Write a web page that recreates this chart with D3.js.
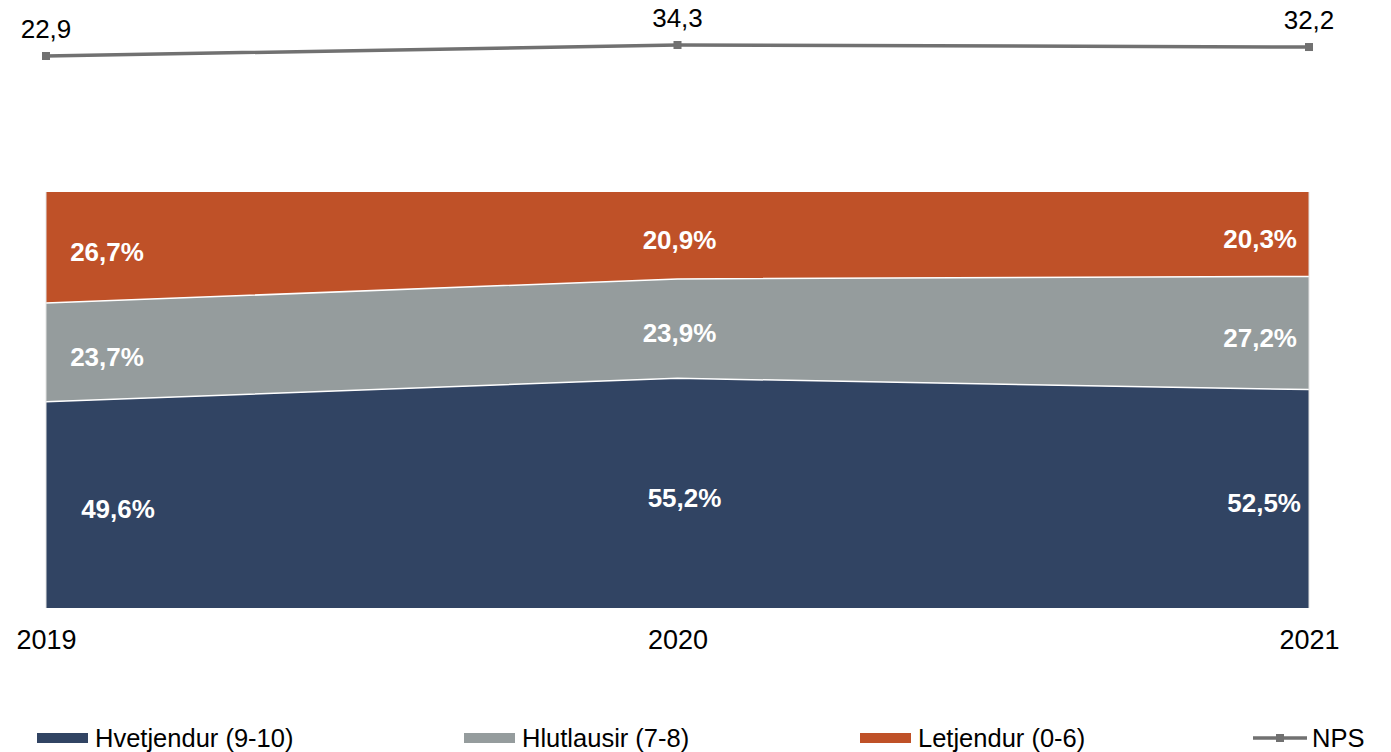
<!DOCTYPE html>
<html>
<head>
<meta charset="utf-8">
<script src="https://cdn.jsdelivr.net/npm/d3@7"></script>
<style>
  html, body { margin: 0; padding: 0; background: #fff; }
  svg { display: block; font-family: "Liberation Sans", Arial, sans-serif; }
</style>
</head>
<body>
<svg id="chart" width="1391" height="752"></svg>
<script>
// ---- data ----
const years = ["2019", "2020", "2021"];
const seriesNames = ["Hvetjendur (9-10)", "Hlutlausir (7-8)", "Letjendur (0-6)"];
const promoters = [49.6, 55.2, 52.5];
const passives = [23.7, 23.9, 27.2];
const detractors = [26.7, 20.9, 20.3];
const nps = [22.9, 34.3, 32.2];
const npsName = "NPS";

const seriesColors = ["#314463", "#959c9d", "#bf5128"];
const npsColor = "#717171";

const fmt = v => d3.format(".1f")(v).replace(".", ",");

const svg = d3.select("#chart");

const plot = { left: 46, right: 1309, top: 192, bottom: 608 };

const x = d3.scalePoint().domain(years).range([plot.left, plot.right]);
const y = d3.scaleLinear().domain([0, 100]).range([plot.bottom, plot.top]);
const yN = d3.scaleLinear().domain([0, 40]).range([78.1, 39.5]);

const rows = years.map((yr, i) => ({
  year: yr, s0: promoters[i], s1: passives[i], s2: detractors[i]
}));
const stack = d3.stack().keys(["s0", "s1", "s2"]);
const stacked = stack(rows);

const area = d3.area()
  .x(d => x(d.data.year))
  .y0(d => y(d[0]))
  .y1(d => y(d[1]));

svg.append("g").selectAll("path")
  .data(stacked)
  .join("path")
  .attr("d", area)
  .attr("fill", (d, i) => seriesColors[i]);

// white separators between bands
const sepLine = d3.line().x(d => x(d.data.year)).y(d => y(d[1]));
svg.append("g").selectAll("path")
  .data(stacked.slice(0, 2))
  .join("path")
  .attr("d", sepLine)
  .attr("fill", "none")
  .attr("stroke", "#ffffff")
  .attr("stroke-width", 1.5);

// faint plot outline at the sides
svg.append("g").selectAll("line")
  .data([years[0], years[years.length - 1]])
  .join("line")
  .attr("x1", d => x(d)).attr("x2", d => x(d))
  .attr("y1", plot.top).attr("y2", plot.bottom)
  .attr("stroke", "#e3e3e3").attr("stroke-width", 1);

// data labels in bands
const labelG = svg.append("g")
  .attr("font-size", 26).attr("font-weight", "bold").attr("fill", "#ffffff");
stacked.forEach((layer, si) => {
  layer.forEach((d, i) => {
    const mid = (y(d[0]) + y(d[1])) / 2;
    const nudge = si === 0 ? [11, 5, 4][i] : 0;
    let anchor, lx;
    if (i === 0) { anchor = "middle"; lx = x(d.data.year) + 61 + nudge; }
    else if (i === years.length - 1) { anchor = "end"; lx = x(d.data.year) - 12 + nudge; }
    else { anchor = "middle"; lx = x(d.data.year) + 2 + nudge; }
    labelG.append("text")
      .attr("x", lx).attr("y", mid).attr("dy", "0.52em")
      .attr("text-anchor", anchor)
      .text(fmt(d[1] - d[0]) + "%");
  });
});

// NPS line
const npsLine = d3.line().x((d, i) => x(years[i])).y(d => yN(d));
svg.append("path")
  .datum(nps)
  .attr("d", npsLine)
  .attr("fill", "none")
  .attr("stroke", npsColor)
  .attr("stroke-width", 3.5);
svg.append("g").selectAll("rect")
  .data(nps)
  .join("rect")
  .attr("x", (d, i) => x(years[i]) - 4)
  .attr("y", d => yN(d) - 4)
  .attr("width", 8).attr("height", 8)
  .attr("fill", npsColor);
svg.append("g").selectAll("text")
  .data(nps)
  .join("text")
  .attr("x", (d, i) => x(years[i]))
  .attr("y", d => yN(d) - 18)
  .attr("text-anchor", "middle")
  .attr("font-size", 26)
  .attr("fill", "#000")
  .text(d => fmt(d));

// x axis labels
const xAxis = d3.axisBottom(x).tickSize(0).tickPadding(0);
const ax = svg.append("g")
  .attr("transform", `translate(0,${plot.bottom})`)
  .call(xAxis);
ax.select(".domain").remove();
ax.selectAll("text")
  .attr("font-size", 27)
  .attr("font-family", "Liberation Sans, Arial, sans-serif")
  .attr("fill", "#000")
  .attr("dy", null)
  .attr("y", 41);

// legend
const legendItems = [
  { name: seriesNames[0], color: seriesColors[0], type: "rect", x0: 37 },
  { name: seriesNames[1], color: seriesColors[1], type: "rect", x0: 464 },
  { name: seriesNames[2], color: seriesColors[2], type: "rect", x0: 860 },
  { name: npsName, color: npsColor, type: "line", x0: 1253 }
];
const lg = svg.append("g").attr("transform", "translate(0,738)");
legendItems.forEach(it => {
  const g = lg.append("g").attr("transform", `translate(${it.x0},0)`);
  if (it.type === "rect") {
    g.append("rect").attr("x", 0).attr("y", -5).attr("width", 51).attr("height", 10).attr("fill", it.color);
  } else {
    g.append("line").attr("x1", 0).attr("x2", 54).attr("y1", 0).attr("y2", 0)
      .attr("stroke", it.color).attr("stroke-width", 3.5);
    g.append("rect").attr("x", 23).attr("y", -4).attr("width", 8).attr("height", 8).attr("fill", it.color);
  }
  g.append("text")
    .attr("x", it.type === "rect" ? 58 : 59)
    .attr("y", 0).attr("dy", "0.36em")
    .attr("font-size", 25.5)
    .attr("fill", "#000")
    .text(it.name);
});
</script>
</body>
</html>
